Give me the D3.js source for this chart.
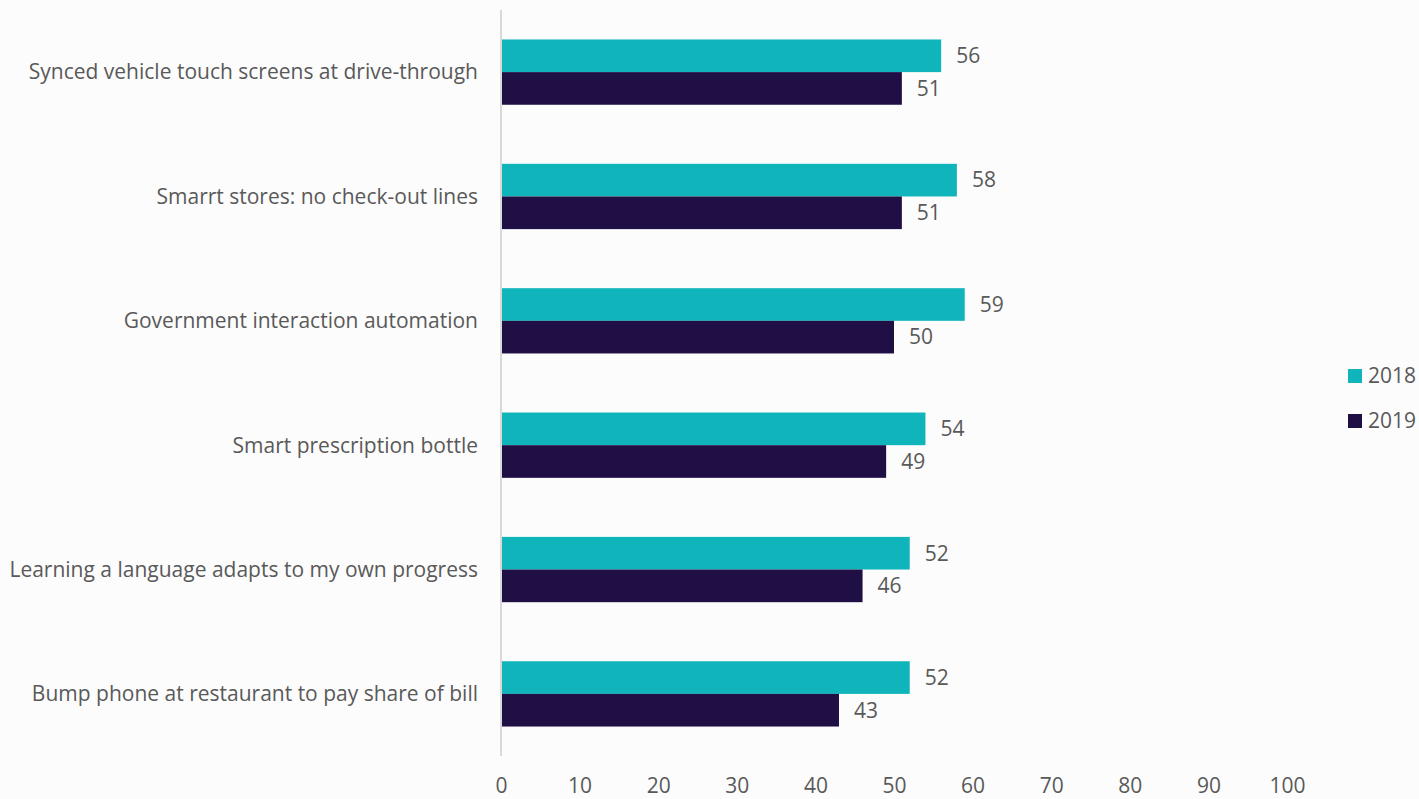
<!DOCTYPE html>
<html>
<head>
<meta charset="utf-8">
<script src="https://cdn.jsdelivr.net/npm/d3@7"></script>
<style>
  html, body { margin: 0; padding: 0; background: #fcfcfc; }
  svg { display: block; }
  text { font-family: "Open Sans", "Noto Sans", sans-serif; fill: #595959; }
</style>
</head>
<body>
<svg id="chart" width="1419" height="799"></svg>
<script>
// Share of respondents interested in each service, by survey year
const categories = [
  "Synced vehicle touch screens at drive-through",
  "Smarrt stores: no check-out lines",
  "Government interaction automation",
  "Smart prescription bottle",
  "Learning a language adapts to my own progress",
  "Bump phone at restaurant to pay share of bill"
];
const seriesNames = ["2018", "2019"];
const values2018 = [56, 58, 59, 54, 52, 52];
const values2019 = [51, 51, 50, 49, 46, 43];
const xTicks = [0, 10, 20, 30, 40, 50, 60, 70, 80, 90, 100];
const colors = ["#0fb5bb", "#200f45"];

const svg = d3.select("#chart");
const margin = { top: 10, left: 501, right: 132, bottom: 43 };
const W = 1419, H = 799;
const fontSize = "21px";

const x = d3.scaleLinear().domain([0, 100]).range([margin.left, W - margin.right]);
const y = d3.scaleBand().domain(categories).range([margin.top, H - margin.bottom]).paddingInner(0.475).paddingOuter(0.237);
const ySub = d3.scaleBand().domain(seriesNames).range([0, y.bandwidth()]);

const rows = categories.map((c, i) => ({ c, vals: [values2018[i], values2019[i]] }));

const g = svg.selectAll("g.row").data(rows).join("g")
  .attr("class", "row")
  .attr("transform", d => `translate(0,${y(d.c)})`);

g.selectAll("rect").data(d => d.vals.map((v, j) => ({ v, s: seriesNames[j], j }))).join("rect")
  .attr("x", x(0))
  .attr("y", d => ySub(d.s))
  .attr("width", d => x(d.v) - x(0))
  .attr("height", ySub.bandwidth())
  .attr("fill", d => colors[d.j]);

g.selectAll("text.val").data(d => d.vals.map((v, j) => ({ v, s: seriesNames[j] }))).join("text")
  .attr("class", "val")
  .attr("x", d => x(d.v) + 15)
  .attr("y", d => ySub(d.s) + ySub.bandwidth() / 2)
  .attr("dy", "0.35em")
  .style("font-size", fontSize)
  .text(d => d.v);

// Category labels
svg.append("g").selectAll("text").data(categories).join("text")
  .attr("x", margin.left - 23)
  .attr("y", d => y(d) + y.bandwidth() / 2)
  .attr("dy", "0.35em")
  .attr("text-anchor", "end")
  .style("font-size", fontSize)
  .text(d => d);

// Vertical axis line
svg.append("line")
  .attr("x1", x(0)).attr("x2", x(0))
  .attr("y1", margin.top).attr("y2", H - margin.bottom)
  .attr("stroke", "#d9d9d9").attr("stroke-width", 2);

// Bottom tick labels
const xAxis = d3.axisBottom(x).tickValues(xTicks).tickSize(0).tickPadding(0);
const ax = svg.append("g").attr("transform", `translate(0,${H - margin.bottom})`).call(xAxis);
ax.select(".domain").remove();
ax.selectAll("text").attr("y", 30).attr("dy", "0.35em").style("font-size", fontSize).attr("fill", "#595959");

// Legend
const leg = svg.append("g").selectAll("g").data(seriesNames).join("g")
  .attr("transform", (d, i) => `translate(1348,${369 + i * 45})`);
leg.append("rect").attr("width", 14).attr("height", 14).attr("fill", (d, i) => colors[i]);
leg.append("text").attr("x", 20).attr("y", 7).attr("dy", "0.35em").style("font-size", fontSize).text(d => d);
</script>
</body>
</html>
